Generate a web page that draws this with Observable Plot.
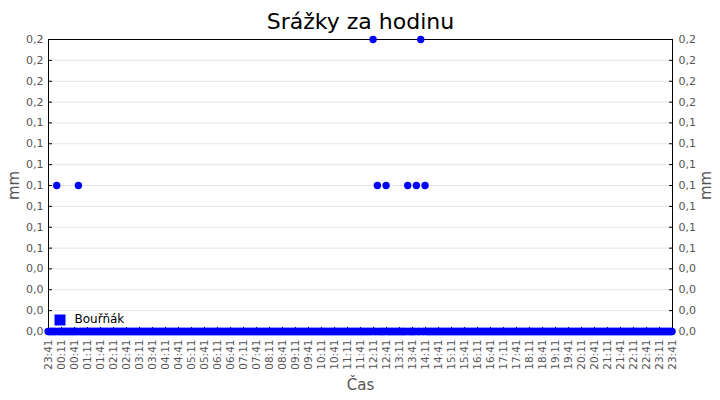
<!DOCTYPE html>
<html>
<head>
<meta charset="utf-8">
<script src="https://cdn.jsdelivr.net/npm/d3@7"></script>
<script src="https://cdn.jsdelivr.net/npm/@observablehq/plot@0.6"></script>
<style>
  html, body { margin: 0; padding: 0; background: #fff; }
  #chart { width: 720px; height: 400px; }
</style>
</head>
<body>
<div id="chart"></div>
<script>
const title = "Srážky za hodinu";
const yLabel = "mm";
const xLabel = "Čas";
const seriesName = "Bouřňák";

// axis window: 23:41 -> 23:41 next day
const axisStart = new Date(2024, 0, 1, 23, 41);
const axisEnd = new Date(2024, 0, 2, 23, 41);
const tickStepMinutes = 30;

// readings: the gauge reports every 2 minutes; all readings are 0 mm except these
const readingStart = new Date(2024, 0, 1, 23, 40);
const readingEnd = new Date(2024, 0, 2, 23, 40);
const readingStepMinutes = 2;
const rainTimes  = ["00:00", "00:50", "12:10", "12:20", "12:40", "13:30", "13:50", "14:00", "14:10"];
const rainValues = [0.1,     0.1,     0.2,     0.1,     0.1,     0.1,     0.1,     0.2,     0.1];

const yTicks = [0, 0.0143, 0.0286, 0.0429, 0.0571, 0.0714, 0.0857, 0.1,
                0.1143, 0.1286, 0.1429, 0.1571, 0.1714, 0.1857, 0.2];
const yDomain = [0, 0.2];

const fmtTime = d3.timeFormat("%H:%M");
const rainByTime = new Map(rainTimes.map((t, i) => [t, rainValues[i]]));
const data = [];
for (let t = +readingStart; t <= +readingEnd; t += readingStepMinutes * 60000) {
  const d = new Date(t);
  const key = fmtTime(d);
  const isLastDay = d.getDate() === readingEnd.getDate();
  data.push({ time: d, value: (isLastDay && rainByTime.has(key)) ? rainByTime.get(key) : 0 });
}
const xTicks = d3.range(0, 49).map(i => new Date(+axisStart + i * tickStepMinutes * 60000));
const fmtY = d => d.toFixed(1).replace(".", ",");

const font = "DejaVu Sans, Verdana, sans-serif";
const labelColor = "#555";

const chart = Plot.plot({
  width: 720,
  height: 400,
  marginLeft: 48,
  marginRight: 48,
  marginTop: 39,
  marginBottom: 69,
  style: { fontFamily: font, background: "#fff", overflow: "visible" },
  x: { type: "time", domain: [axisStart, axisEnd] },
  y: { domain: yDomain },
  marks: [
    Plot.gridY(yTicks, { stroke: "#e6e6e6", strokeOpacity: 1 }),
    // left axis labels and inward ticks
    Plot.axisY(yTicks, { anchor: "left", tickSize: 0, tickPadding: 5, tickFormat: fmtY, fontSize: 11, fill: labelColor, label: null }),
    Plot.axisY(yTicks, { anchor: "left", tickSize: -4, tickFormat: () => "", label: null, stroke: "#000" }),
    // right axis
    Plot.axisY(yTicks, { anchor: "right", tickSize: 0, tickPadding: 6, tickFormat: fmtY, fontSize: 11, fill: labelColor, label: null }),
    Plot.axisY(yTicks, { anchor: "right", tickSize: -4, tickFormat: () => "", label: null, stroke: "#000" }),
    // x axis
    Plot.axisX(xTicks, { anchor: "bottom", tickSize: 0, tickPadding: 8, tickRotate: -90, tickFormat: fmtTime, fontSize: 10.5, fill: labelColor, label: null }),
    Plot.axisX(xTicks, { anchor: "bottom", tickSize: -4, tickFormat: () => "", label: null, stroke: "#000" }),
    Plot.frame({ stroke: "#000", strokeWidth: 1 }),
    Plot.dot(data, { x: "time", y: "value", r: 3.7, fill: "#0000ff", stroke: null }),
    // legend
    Plot.dot([seriesName], { frameAnchor: "bottom-left", dx: 11.5, dy: -11.5, symbol: "square", r: 6.2, fill: "#0000ff" }),
    Plot.text([seriesName], { frameAnchor: "bottom-left", dx: 26, dy: -12, textAnchor: "start", lineAnchor: "middle", fontSize: 12, fill: "#000" }),
    // title and axis labels
    Plot.text([title], { frameAnchor: "top", dy: -18, textAnchor: "middle", lineAnchor: "middle", fontSize: 22, fill: "#000" }),
    Plot.text([xLabel], { frameAnchor: "bottom", dy: 54, textAnchor: "middle", lineAnchor: "middle", fontSize: 15, fill: labelColor }),
    Plot.text([yLabel], { frameAnchor: "left", dx: -34, rotate: -90, textAnchor: "middle", lineAnchor: "middle", fontSize: 15, fill: labelColor }),
    Plot.text([yLabel], { frameAnchor: "right", dx: 34, rotate: -90, textAnchor: "middle", lineAnchor: "middle", fontSize: 15, fill: labelColor })
  ]
});
document.getElementById("chart").appendChild(chart);
</script>
</body>
</html>
